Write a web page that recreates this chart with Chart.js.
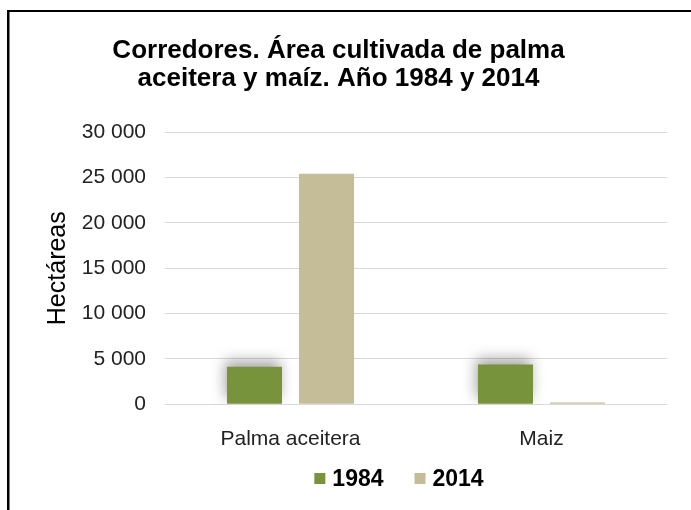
<!DOCTYPE html>
<html>
<head>
<meta charset="utf-8">
<script src="https://cdn.jsdelivr.net/npm/chart.js@4/dist/chart.umd.min.js"></script>
<style>
  html, body { margin: 0; padding: 0; background: #ffffff; }
  #wrap { width: 691px; height: 510px; }
</style>
</head>
<body>
<div id="wrap"><canvas id="c" width="691" height="510"></canvas></div>
<script>
// Área cultivada (hectáreas) por cultivo y año
const categories = ['Palma aceitera', 'Maiz'];
const years = ['1984', '2014'];
const area1984 = [4150, 4400];
const area2014 = [25400, 200];
const yTicks = [0, 5000, 10000, 15000, 20000, 25000, 30000];

const titleLines = ['Corredores. Área cultivada de palma', 'aceitera y maíz. Año 1984 y 2014'];
const yAxisTitle = 'Hectáreas';

const FONT = "'Liberation Sans', Arial, sans-serif";
const GREEN = '#77933C';
const TAN = '#C4BD97';

// Thousands separated by a space: 25 000
function fmt(v) {
  return String(v).replace(/\B(?=(\d{3})+(?!\d))/g, ' ');
}

// Soft shadow behind the 1984 bars
const barShadow = {
  id: 'barShadow',
  beforeDatasetDraw(chart, args) {
    if (args.index !== 0) return;
    const ctx = chart.ctx;
    ctx.save();
    ctx.shadowColor = 'rgba(0,0,0,0.35)';
    ctx.shadowBlur = 14;
    ctx.shadowOffsetX = -2;
    ctx.shadowOffsetY = -6;
  },
  afterDatasetDraw(chart, args) {
    if (args.index !== 0) return;
    chart.ctx.restore();
  }
};

// Legend row under the axis
const bottomLegend = {
  id: 'bottomLegend',
  afterDraw(chart) {
    const ctx = chart.ctx;
    const box = 11, gap = 7, spacing = 31, cx = 399, cy = 479;
    ctx.save();
    ctx.font = 'bold 23px ' + FONT;
    ctx.textBaseline = 'middle';
    ctx.textAlign = 'left';
    const items = chart.data.datasets.map(ds => ({
      text: ds.label, color: ds.backgroundColor, w: box + gap + ctx.measureText(ds.label).width
    }));
    const total = items.reduce((s, it) => s + it.w, 0) + spacing * (items.length - 1);
    let x = cx - total / 2;
    items.forEach(it => {
      ctx.fillStyle = it.color;
      ctx.fillRect(x, cy - box / 2 - 0.5, box, box);
      ctx.fillStyle = '#000000';
      ctx.fillText(it.text, x + box + gap, cy + 1);
      x += it.w + spacing;
    });
    ctx.restore();
  }
};

// Frame around the figure
const frame = {
  id: 'frame',
  afterDraw(chart) {
    const ctx = chart.ctx;
    ctx.save();
    ctx.fillStyle = '#000000';
    ctx.fillRect(7, 10, chart.width - 7, 2);
    ctx.fillRect(7, 10, 2.5, chart.height - 10);
    ctx.restore();
  }
};

new Chart(document.getElementById('c'), {
  type: 'bar',
  data: {
    labels: categories,
    datasets: [
      { label: years[0], data: area1984, backgroundColor: GREEN },
      { label: years[1], data: area2014, backgroundColor: TAN }
    ]
  },
  options: {
    responsive: false,
    devicePixelRatio: 1,
    animation: false,
    layout: { padding: { left: 10, right: 24, top: 0, bottom: 0 } },
    datasets: {
      bar: { barPercentage: 0.764, categoryPercentage: 0.574 }
    },
    plugins: {
      legend: { display: false },
      tooltip: { enabled: false },
      title: {
        display: true,
        text: titleLines,
        color: '#000000',
        font: { family: FONT, size: 26, weight: 'bold', lineHeight: 1.06 },
        padding: { top: 37, bottom: 40 }
      }
    },
    scales: {
      x: {
        grid: { display: false },
        border: { display: false },
        ticks: { color: '#222222', font: { family: FONT, size: 21 }, padding: 14 },
        afterFit(scale) { scale.height = 105.7; }
      },
      y: {
        min: 0,
        max: 30000,
        afterBuildTicks(scale) { scale.ticks = yTicks.map(v => ({ value: v })); },
        grid: { color: '#D9D9D9', lineWidth: 1, drawTicks: false },
        border: { display: false },
        ticks: {
          color: '#222222',
          font: { family: FONT, size: 21 },
          padding: 19,
          callback: v => fmt(v)
        },
        title: {
          display: true,
          text: yAxisTitle,
          color: '#000000',
          font: { family: FONT, size: 25 },
          padding: { top: 33, bottom: 0 }
        },
        afterFit(scale) { scale.width = 155; }
      }
    }
  },
  plugins: [barShadow, bottomLegend, frame]
});
</script>
</body>
</html>
